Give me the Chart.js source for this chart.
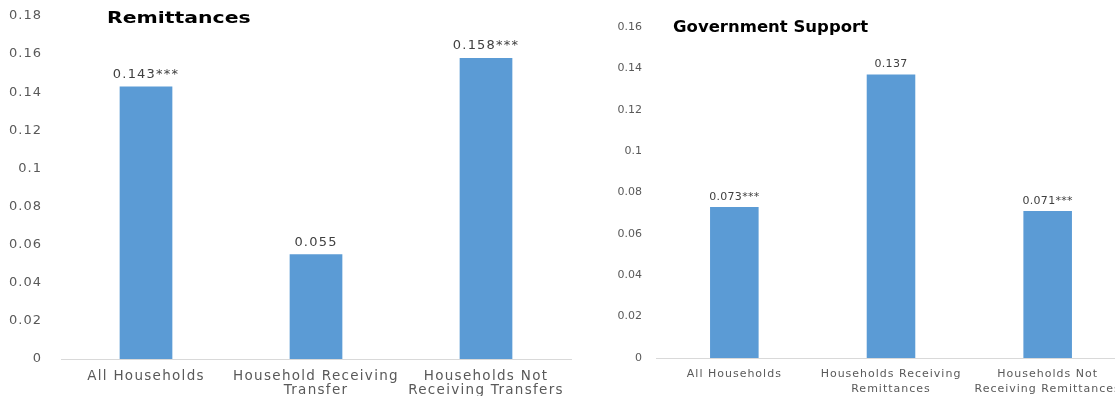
<!DOCTYPE html>
<html>
<head>
<meta charset="utf-8">
<script src="https://cdn.jsdelivr.net/npm/chart.js@4/dist/chart.umd.min.js"></script>
<style>
  html, body { margin: 0; padding: 0; background: #fff; overflow: hidden; }
  .panel { position: absolute; top: 0; height: 396px; }
  #leftPanel { left: 0; width: 580px; }
  #rightPanel { left: 580px; width: 555px; }
</style>
</head>
<body>
<div class="panel" id="leftPanel"><canvas id="remit"></canvas></div>
<div class="panel" id="rightPanel"><canvas id="gov"></canvas></div>
<script>
// Remittances panel
const remitCategories = [
  'All Households',
  ['Household Receiving', 'Transfer'],
  ['Households Not', 'Receiving Transfers']
];
const remitValues = [0.143, 0.055, 0.158];
const remitStars = ['***', '', '***'];
const remitTicks = { min: 0, max: 0.18, step: 0.02 };

// Government support panel
const govCategories = [
  'All Households',
  ['Households Receiving', 'Remittances'],
  ['Households Not', 'Receiving Remittances']
];
const govValues = [0.073, 0.137, 0.071];
const govStars = ['***', '', '***'];
const govTicks = { min: 0, max: 0.16, step: 0.02 };

const BAR = '#5B9BD5';
const AXIS_TEXT = '#595959';

// Draws the value (plus significance stars) above each bar
const valueLabels = {
  id: 'valueLabels',
  afterDatasetsDraw(chart, args, opts) {
    const ctx = chart.ctx;
    const meta = chart.getDatasetMeta(0);
    const vals = chart.data.datasets[0].data;
    ctx.save();
    ctx.font = opts.font;
    ctx.letterSpacing = opts.spacing;
    ctx.fillStyle = '#404040';
    ctx.textAlign = 'center';
    ctx.textBaseline = 'middle';
    meta.data.forEach((bar, i) => {
      ctx.fillText(vals[i].toFixed(3) + opts.stars[i], bar.x, bar.y - opts.offset);
    });
    ctx.restore();
  }
};

// Panel heading drawn inside the plot area, slightly widened
const panelTitle = {
  id: 'panelTitle',
  afterDraw(chart, args, opts) {
    const ctx = chart.ctx;
    ctx.save();
    ctx.font = opts.font;
    ctx.fillStyle = '#000';
    ctx.textAlign = 'left';
    ctx.textBaseline = 'middle';
    ctx.translate(chart.chartArea.left + opts.dx, opts.y);
    ctx.scale(opts.stretch, 1);
    ctx.fillText(opts.text, 0, 0);
    ctx.restore();
  }
};

function tickText(v) { return String(Number(v.toFixed(2))); }

// Give a scale's labels their own letter spacing and drop the extra
// edge padding so the plot area follows the layout padding exactly.
function tuneScale(scale, size, spacing) {
  if (scale.options.position === 'left' || scale.options.position === 'right') {
    scale.width = size;
  } else {
    scale.height = size;
  }
  scale.paddingTop = 0;
  scale.paddingBottom = 0;
  if (!scale._spaced) {
    const drawLabels = scale.drawLabels.bind(scale);
    scale.drawLabels = function (area) {
      const ctx = this.ctx;
      ctx.save();
      ctx.letterSpacing = spacing;
      drawLabels(area);
      ctx.restore();
    };
    scale._spaced = true;
  }
}

function makeChart(id, cats, vals, stars, range, cfg) {
  return new Chart(document.getElementById(id), {
    type: 'bar',
    data: {
      labels: cats,
      datasets: [{
        data: vals,
        backgroundColor: BAR,
        borderWidth: 0,
        categoryPercentage: 1,
        barPercentage: 0.31
      }]
    },
    options: {
      responsive: true,
      maintainAspectRatio: false,
      animation: false,
      layout: { padding: { top: cfg.top, right: cfg.right, bottom: 0, left: 0 } },
      plugins: {
        legend: { display: false },
        tooltip: { enabled: false },
        valueLabels: { font: cfg.valueFont, spacing: cfg.valueSpacing, stars: stars, offset: cfg.valueOffset },
        panelTitle: { text: cfg.title, font: cfg.titleFont, stretch: cfg.titleStretch, dx: cfg.titleDx, y: cfg.titleY }
      },
      scales: {
        x: {
          grid: { display: false, drawTicks: false },
          border: { display: true, color: '#d9d9d9', width: 1 },
          ticks: {
            color: AXIS_TEXT,
            font: { family: 'DejaVu Sans', size: cfg.catSize, lineHeight: cfg.catLine },
            padding: cfg.catPad,
            maxRotation: 0,
            autoSkip: false
          },
          afterFit(scale) { tuneScale(scale, cfg.xHeight, cfg.catSpacing); }
        },
        y: {
          min: range.min,
          max: range.max,
          grid: { display: false, drawTicks: false },
          border: { display: false },
          ticks: {
            stepSize: range.step,
            color: AXIS_TEXT,
            font: { family: 'DejaVu Sans', size: cfg.tickSize },
            padding: cfg.tickPad,
            callback: tickText
          },
          afterFit(scale) { tuneScale(scale, cfg.yWidth, cfg.tickSpacing); }
        }
      }
    },
    plugins: [valueLabels, panelTitle]
  });
}

makeChart('remit', remitCategories, remitValues, remitStars, remitTicks, {
  top: 16, right: 9, yWidth: 61, xHeight: 37,
  tickSize: 13, tickPad: 19, tickSpacing: '1px',
  catSize: 13.5, catLine: 1.04, catPad: 10, catSpacing: '1.3px',
  valueFont: '13px "DejaVu Sans"', valueSpacing: '1.2px', valueOffset: 12,
  title: 'Remittances', titleFont: 'bold 15px "DejaVu Sans"', titleStretch: 1.36, titleDx: 46, titleY: 19
});

makeChart('gov', govCategories, govValues, govStars, govTicks, {
  top: 27, right: 9, yWidth: 76, xHeight: 38,
  tickSize: 11, tickPad: 14, tickSpacing: '0px',
  catSize: 11, catLine: 1.35, catPad: 9, catSpacing: '1px',
  valueFont: '11px "DejaVu Sans"', valueSpacing: '0.3px', valueOffset: 10,
  title: 'Government Support', titleFont: 'bold 15px "DejaVu Sans"', titleStretch: 1.1, titleDx: 17, titleY: 28
});
</script>
</body>
</html>
